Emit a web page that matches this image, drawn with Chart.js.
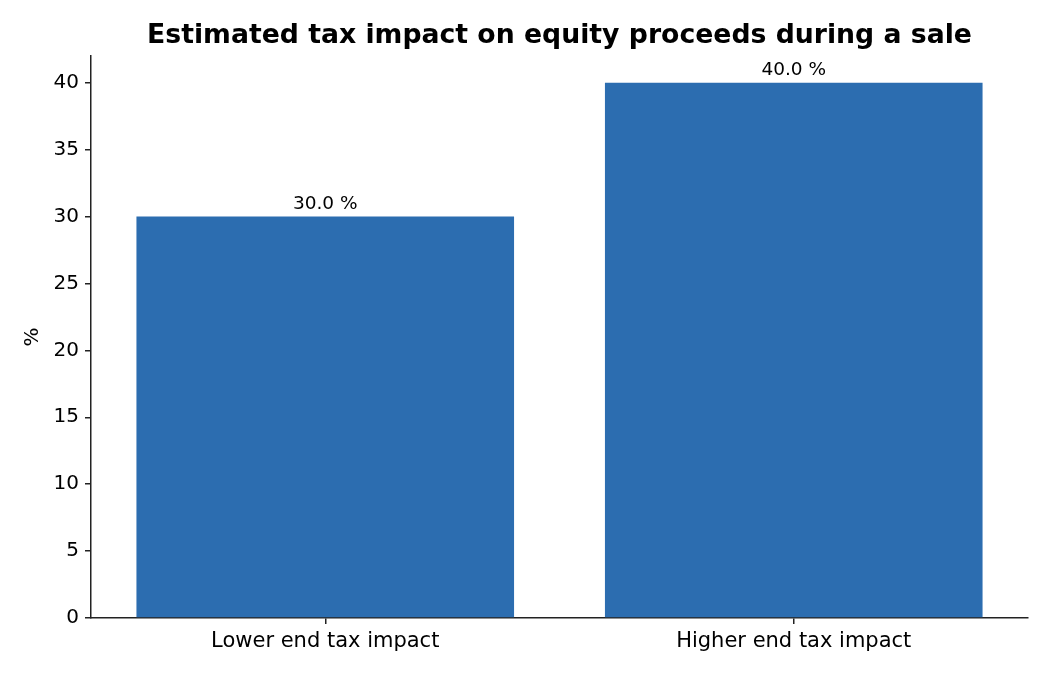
<!DOCTYPE html>
<html>
<head>
<meta charset="utf-8">
<script src="https://cdn.jsdelivr.net/npm/chart.js@4"></script>
<style>
  html, body { margin: 0; padding: 0; background: #fff; }
  #wrap { width: 1050px; height: 675px; position: relative; }
</style>
</head>
<body>
<div id="wrap"><canvas id="taxChart"></canvas></div>
<script>
const categories = ['Lower end tax impact', 'Higher end tax impact']
const taxImpact = [30.0, 40.0]
const yTicks = [0, 5, 10, 15, 20, 25, 30, 35, 40]
const chartTitle = 'Estimated tax impact on equity proceeds during a sale'

const FONT = "'DejaVu Sans', sans-serif"
const INK = '#222'

// draws the title centred on the plot area and the value labels above each bar
const overlay = {
  id: 'overlay',
  afterDraw(chart) {
    const { ctx, chartArea } = chart
    ctx.save()
    ctx.fillStyle = '#000'
    ctx.textAlign = 'center'
    ctx.textBaseline = 'alphabetic'
    ctx.font = 'bold 26.7px ' + FONT
    ctx.fillText(chartTitle, (chartArea.left + chartArea.right) / 2, 43)

    ctx.font = '18.5px ' + FONT
    chart.getDatasetMeta(0).data.forEach((bar, i) => {
      ctx.fillText(taxImpact[i].toFixed(1) + ' %', bar.x, bar.y - 8)
    })
    ctx.restore()
  }
}

new Chart(document.getElementById('taxChart'), {
  type: 'bar',
  data: {
    labels: categories,
    datasets: [
      {
        label: '%',
        data: taxImpact,
        backgroundColor: '#2c6db0',
        borderWidth: 0,
        barPercentage: 0.806,
        categoryPercentage: 1.0,
      },
    ],
  },
  options: {
    responsive: true,
    maintainAspectRatio: false,
    animation: false,
    layout: { padding: { top: 56, right: 22, left: 0, bottom: 0 } },
    plugins: {
      legend: { display: false },
      tooltip: { enabled: false },
      title: { display: false },
    },
    scales: {
      x: {
        offset: true,
        grid: {
          display: true,
          drawOnChartArea: false,
          drawTicks: true,
          tickLength: 6,
          color: INK,
          lineWidth: 1.5,
          offset: false,
        },
        border: { display: true, color: INK, width: 1.5 },
        ticks: {
          color: '#000',
          font: { family: FONT, size: 21 },
          padding: 5,
          maxRotation: 0,
        },
        afterFit(scale) { scale.height = 57 },
      },
      y: {
        min: 0,
        max: 42,
        grid: {
          display: true,
          drawOnChartArea: false,
          drawTicks: true,
          tickLength: 6,
          color: INK,
          lineWidth: 1.5,
        },
        border: { display: true, color: INK, width: 1.5 },
        ticks: {
          stepSize: 5,
          color: '#000',
          font: { family: FONT, size: 20 },
          padding: 6,
        },
        afterBuildTicks(scale) {
          scale.ticks = yTicks.map(v => ({ value: v }))
        },
        title: {
          display: true,
          text: '%',
          color: '#000',
          font: { family: FONT, size: 20 },
          padding: { top: 21, bottom: 0 },
        },
        afterFit(scale) { scale.width = 91 },
      },
    },
  },
  plugins: [overlay],
})
</script>
</body>
</html>
